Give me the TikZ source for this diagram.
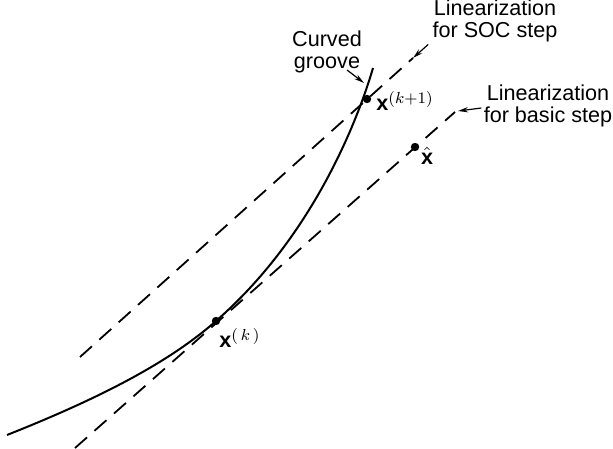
\documentclass[tikz,border=0pt]{standalone}
\usepackage{fontspec}
\setmainfont{Liberation Sans}
\usepackage{tikz}
\usetikzlibrary{arrows.meta}

\begin{document}
\begin{tikzpicture}[
  x=0.5pt,y=-0.5pt,
  groove/.style={line width=1pt},
  linz/.style={line width=0.9pt,dash pattern=on 8pt off 5pt},
  leader/.style={line width=0.6pt,-{Stealth[length=5pt,width=2.6pt]}},
  pt/.style={circle,fill,inner sep=0pt,minimum size=4.2pt},
  lbl/.style={font=\fontsize{10.8}{11}\selectfont,align=center,inner sep=0pt},
  ptlbl/.style={font=\fontsize{10.8}{11}\selectfont,inner sep=0pt}]
\useasboundingbox (0,0) rectangle (613,448);
% points on and off the groove
\node[pt] (xk) at (216,321) {};
\node[pt] (xk1) at (367,99) {};
\node[pt] (xhat) at (415,147) {};
\node[ptlbl] at (240,338) {\textbf{x}$^{(\,k\,)}$};
\node[ptlbl] at (405,101) {\textbf{x}$^{(k+1)}$};
\node[ptlbl] at (427,156) {$\hat{\textbf{x}}$};
% the curved groove
\coordinate (gA) at (7,435);
\coordinate (gB) at (373,68);
\draw[groove] (gA) .. controls (90,402) and (165,366) .. (xk.center)
  .. controls (310,238.9) and (356,126) .. (gB);
% the two linearizations
\coordinate (socA) at (80,357);
\coordinate (socB) at (413,58);
\coordinate (basA) at (75,448);
\coordinate (basB) at (455,112);
\draw[linz] (socA) -- (socB);
\draw[linz] (basA) -- (basB);
% labels
\node[lbl] (grv) at (327,52) {Curved\\groove};
\node[lbl] (soc) at (495,21) {Linearization\\for SOC step};
\node[lbl] (bas) at (548,106) {Linearization\\for basic step};
\draw[leader] (347,70) -- (364,83);
\draw[leader] (soc.south west) ++(-4,2) -- (socB);
\draw[leader] (bas.west) ++(-2,2) -- (458,111);
\end{tikzpicture}
\end{document}
